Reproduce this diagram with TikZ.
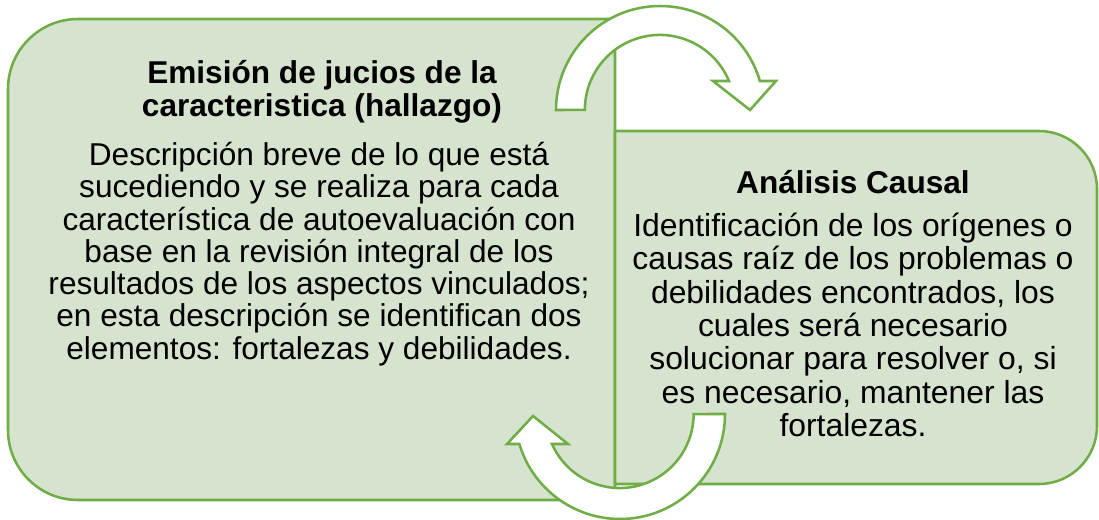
\documentclass[tikz,border=0pt]{standalone}
\usepackage{fontspec}
\setmainfont{Liberation Sans}
\usetikzlibrary{positioning}
\definecolor{boxfill}{HTML}{D6E3CE}
\definecolor{boxline}{HTML}{70AD47}
\tikzset{
  boxshape/.style={draw=boxline, fill=boxfill, line width=1.9pt, line join=round},
  turnarrow/.style={draw=boxline, fill=white, line width=1.9pt, line join=miter},
  titletext/.style={align=center, inner sep=0pt, font=\fontsize{23.7}{24.8}\selectfont\bfseries},
  bodytext/.style={align=center, inner sep=0pt, font=\fontsize{23.7}{24.2}\selectfont}
}
\begin{document}
\begin{tikzpicture}[x=0.75pt, y=0.75pt]
  \useasboundingbox (0,0) rectangle (1099,519);
  % left box
  \draw[boxshape] (615,500) -- (78,500) arc[start angle=90, end angle=180, radius=70]
    -- (8,89) arc[start angle=180, end angle=270, radius=70] -- (615,19) -- cycle;
  % right box
  \draw[boxshape] (615,388) -- (1039,388) arc[start angle=90, end angle=0, radius=58]
    -- (1097,93) arc[start angle=0, end angle=-90, radius=58] -- (615,35) -- cycle;

  \node[titletext] (emision) at (322,427) {Emisión de jucios de la\\caracteristica (hallazgo)};
  \node[bodytext] (descripcion) at (319,265) {Descripción breve de lo que está\\
    sucediendo y se realiza para cada\\
    característica de autoevaluación con\\
    base en la revisión integral de los\\
    resultados de los aspectos vinculados;\\
    en esta descripción se identifican dos\\
    elementos: fortalezas y debilidades.};

  \node[titletext] (analisis) at (853,337) {Análisis Causal};
  \node[bodytext, font=\fontsize{23.9}{25}\selectfont] (identificacion) at (853,194) {Identificación de los orígenes o\\
    causas raíz de los problemas o\\
    debilidades encontrados, los\\
    cuales será necesario\\
    solucionar para resolver o, si\\
    es necesario, mantener las\\
    fortalezas.};

  % turning arrows
  \draw[turnarrow] (556,409) arc[start angle=180, end angle=16.2, radius=104]
    -- (776,438) -- (750,409) -- (713,438) -- (729,438)
    arc[start angle=22.7, end angle=180, radius=75] -- cycle;
  \draw[turnarrow] (725,105) arc[start angle=0, end angle=-163.4, radius=105]
    -- (507,75) -- (533,103) -- (568,75) -- (552,75)
    arc[start angle=-156.1, end angle=0, radius=74] -- cycle;
\end{tikzpicture}
\end{document}
